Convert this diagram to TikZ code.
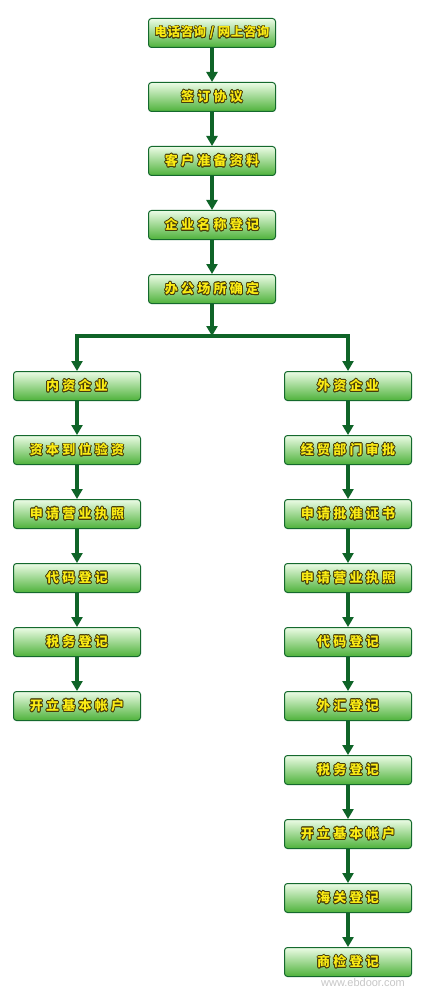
\documentclass[tikz,border=0pt]{standalone}
\usepackage{fontspec}
\usepackage{contour}
\usetikzlibrary{positioning,arrows.meta}
\newfontfamily\cjk{Noto Sans CJK SC}[LetterSpace=25]
\newfontfamily\cjktight{Noto Sans CJK SC}[LetterSpace=4]
\setsansfont{Liberation Sans}
\contourlength{0.7pt}
\definecolor{boxline}{RGB}{20,105,45}
\definecolor{boxtop}{RGB}{236,252,230}
\definecolor{boxmid}{RGB}{168,228,145}
\definecolor{boxbot}{RGB}{78,178,58}
\definecolor{flowline}{RGB}{15,100,40}
\definecolor{labelyel}{RGB}{250,235,20}
\definecolor{labeledge}{RGB}{70,60,10}
\newcommand{\lbl}[1]{\contour{labeledge}{\textcolor{labelyel}{#1}}}
\tikzset{
  stepbox/.style={draw=boxline, line width=1pt, rounded corners=3pt,
    top color=boxtop, middle color=boxmid, bottom color=boxbot,
    minimum width=127pt, minimum height=29pt, inner sep=0pt,
    font=\cjk\bfseries\fontsize{13pt}{13pt}\selectfont},
  flow/.style={draw=flowline, line width=3.6pt,
    -{Triangle[width=11pt,length=10pt]}},
  joinline/.style={draw=flowline, line width=3.6pt, line cap=rect}
}
\begin{document}
\begin{tikzpicture}[x=1pt, y=1pt, node distance=34pt]
\useasboundingbox[fill=white] (0,0) rectangle (430,-992);

% common steps
\node[stepbox, font=\cjktight\bfseries\fontsize{12.5pt}{13pt}\selectfont] (call) at (212,-33) {\lbl{电话咨询 / 网上咨询}};
\node[stepbox, below=of call] (sign) {\lbl{签订协议}};
\node[stepbox, below=of sign] (docs) {\lbl{客户准备资料}};
\node[stepbox, below=of docs] (name) {\lbl{企业名称登记}};
\node[stepbox, below=of name] (office) {\lbl{办公场所确定}};
\coordinate (split) at (212,-336);

% domestic
\node[stepbox] (dom) at (77,-386) {\lbl{内资企业}};
\node[stepbox, below=of dom] (dcap) {\lbl{资本到位验资}};
\node[stepbox, below=of dcap] (dlic) {\lbl{申请营业执照}};
\node[stepbox, below=of dlic] (dcode) {\lbl{代码登记}};
\node[stepbox, below=of dcode] (dtax) {\lbl{税务登记}};
\node[stepbox, below=of dtax] (dbank) {\lbl{开立基本帐户}};

% foreign
\node[stepbox] (for) at (348,-386) {\lbl{外资企业}};
\node[stepbox, below=of for] (fapp) {\lbl{经贸部门审批}};
\node[stepbox, below=of fapp] (fcert) {\lbl{申请批准证书}};
\node[stepbox, below=of fcert] (flic) {\lbl{申请营业执照}};
\node[stepbox, below=of flic] (fcode) {\lbl{代码登记}};
\node[stepbox, below=of fcode] (ffx) {\lbl{外汇登记}};
\node[stepbox, below=of ffx] (ftax) {\lbl{税务登记}};
\node[stepbox, below=of ftax] (fbank) {\lbl{开立基本帐户}};
\node[stepbox, below=of fbank] (fcus) {\lbl{海关登记}};
\node[stepbox, below=of fcus] (finsp) {\lbl{商检登记}};

% arrows
\foreach \a/\b in {call/sign, sign/docs, docs/name, name/office,
  dom/dcap, dcap/dlic, dlic/dcode, dcode/dtax, dtax/dbank,
  for/fapp, fapp/fcert, fcert/flic, flic/fcode, fcode/ffx, ffx/ftax,
  ftax/fbank, fbank/fcus, fcus/finsp}
  \draw[flow] (\a) -- (\b);
\draw[flow] (office) -- (split);
\draw[joinline] (split -| dom) -- (split -| for);
\draw[flow] (split -| dom) -- (dom);
\draw[flow] (split -| for) -- (for);

\node[font=\sffamily\fontsize{11pt}{11pt}\selectfont, text=black!22] (mark) at (363,-983) {www.ebdoor.com};
\end{tikzpicture}
\end{document}
